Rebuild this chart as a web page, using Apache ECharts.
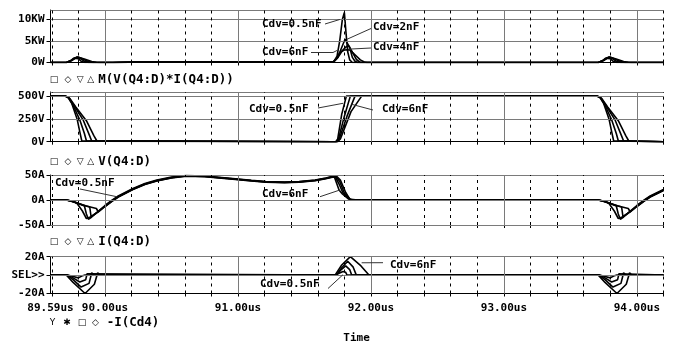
<!DOCTYPE html>
<html>
<head>
<meta charset="utf-8">
<script src="https://cdn.jsdelivr.net/npm/echarts@6.0.0/dist/echarts.min.js"></script>
<style>
html,body{margin:0;padding:0;background:#fff;}
#chart{width:673px;height:345px;}
</style>
</head>
<body>
<div id="chart"></div>
<script>
// ---- Time axis (us) ----
const timeMin = 89.59;
const timeMax = 94.2;
const majorTimes = [90, 91, 92, 93, 94];
const minorTimes = [89.6, 89.8, 90.2, 90.4, 90.6, 90.8, 91.2, 91.4, 91.6, 91.8,
                    92.2, 92.4, 92.6, 92.8, 93.2, 93.4, 93.6, 93.8, 94.2];
const timeLabels = [89.59, 90, 91, 92, 93, 94];

// ---- Y ticks per plot ----
const powerTicks = [0, 5000, 10000];
const voltTicks = [0, 250, 500];
const currentTicks = [-50, 0, 50];
const capTicks = [-20, 0, 20];

const sweepNames = ['Cdv=0.5nF', 'Cdv=2nF', 'Cdv=4nF', 'Cdv=6nF'];

// ---- M(V(Q4:D)*I(Q4:D)) [W] ----
const power05 = [[89.59,0],[89.71,0],[89.74,400],[89.765,1000],[89.78,1350],[89.80,900],[89.82,300],[89.835,50],[89.85,0],
  [90.06,0],[90.3,130],[90.6,170],[91.0,150],[91.3,110],[91.6,120],[91.72,200],
  [91.745,1500],[91.765,5000],[91.785,10000],[91.80,11600],[91.812,7000],[91.825,2500],[91.84,600],[91.86,0],
  [93.71,0],[93.74,400],[93.765,1000],[93.78,1350],[93.80,900],[93.82,300],[93.835,50],[93.85,0],[94.2,0]];
const power2 = [[89.59,0],[89.71,0],[89.745,450],[89.77,1000],[89.79,1300],[89.815,900],[89.845,300],[89.86,60],[89.88,0],
  [90.06,0],[90.3,140],[90.6,175],[91.0,150],[91.3,115],[91.6,125],[91.72,200],
  [91.75,1200],[91.78,3500],[91.805,5400],[91.82,5500],[91.84,3500],[91.86,1200],[91.88,300],[91.9,0],
  [93.71,0],[93.745,450],[93.77,1000],[93.79,1300],[93.815,900],[93.845,300],[93.86,60],[93.88,0],[94.2,0]];
const power4 = [[89.59,0],[89.71,0],[89.75,500],[89.775,1050],[89.795,1250],[89.83,850],[89.87,300],[89.895,60],[89.915,0],
  [90.06,0],[90.3,145],[90.6,180],[91.0,155],[91.3,120],[91.6,130],[91.72,200],
  [91.75,1100],[91.785,2800],[91.815,3700],[91.835,3800],[91.86,2400],[91.89,700],[91.92,0],
  [93.71,0],[93.75,500],[93.775,1050],[93.795,1250],[93.83,850],[93.87,300],[93.895,60],[93.915,0],[94.2,0]];
const power6 = [[89.59,0],[89.71,0],[89.755,550],[89.78,1100],[89.80,1200],[89.85,750],[89.90,250],[89.935,50],[89.96,0],
  [90.06,0],[90.3,150],[90.6,185],[91.0,160],[91.3,125],[91.6,135],[91.72,200],
  [91.745,1000],[91.765,2300],[91.80,2900],[91.84,3000],[91.88,1800],[91.92,600],[91.95,100],[91.97,0],
  [93.71,0],[93.755,550],[93.78,1100],[93.80,1200],[93.85,750],[93.90,250],[93.935,50],[93.96,0],[94.2,0]];

// ---- V(Q4:D) [V] ----
const volt05 = [[89.59,500],[89.70,500],[89.72,490],[89.75,420],[89.79,250],[89.81,110],[89.825,10],[89.835,0],
  [91.735,0],[91.75,30],[91.78,300],[91.815,500],
  [93.70,500],[93.72,490],[93.75,420],[93.79,250],[93.81,110],[93.825,10],[93.835,0],[94.2,0]];
const volt2 = [[89.59,500],[89.70,500],[89.725,485],[89.76,400],[89.81,240],[89.845,90],[89.86,10],[89.87,0],
  [91.74,0],[91.755,25],[91.80,280],[91.845,500],
  [93.70,500],[93.725,485],[93.76,400],[93.81,240],[93.845,90],[93.86,10],[93.87,0],[94.2,0]];
const volt4 = [[89.59,500],[89.70,500],[89.73,480],[89.77,390],[89.835,240],[89.88,80],[89.90,8],[89.91,0],
  [91.745,0],[91.76,25],[91.82,280],[91.88,500],
  [93.70,500],[93.73,480],[93.77,390],[93.835,240],[93.88,80],[93.90,8],[93.91,0],[94.2,0]];
const volt6 = [[89.59,500],[89.70,500],[89.735,475],[89.78,380],[89.86,230],[89.915,70],[89.94,5],[89.95,0],
  [91.75,0],[91.77,30],[91.85,330],[91.93,500],
  [93.70,500],[93.735,475],[93.78,380],[93.86,230],[93.915,70],[93.94,5],[93.95,0],[94.2,0]];

// ---- I(Q4:D) [A] ----
const current05 = [[89.59,0],[89.71,0],[89.75,-2],[89.79,-7],[89.83,-22],[89.86,-37],[89.87,-40],
  [89.90,-33],[89.95,-22],[90.00,-11],[90.05,-1],[90.10,8],[90.21,23],[90.30,33],[90.39,40],[90.50,46],[90.61,49],
  [90.75,48],[90.96,43],[91.10,39.5],[91.21,37],[91.35,36],[91.46,37],[91.58,40],[91.66,44],[91.70,46.5],
  [91.74,48],[91.77,40],[91.81,15],[91.84,2],[91.86,0],
  [93.71,0],[93.75,-2],[93.79,-7],[93.83,-22],[93.86,-37],[93.87,-40],[93.90,-33],[93.95,-22],[94.00,-11],[94.05,-1],[94.10,8],[94.20,21]];
const current2 = [[89.59,0],[89.71,0],[89.76,-3],[89.81,-8],[89.845,-12],[89.86,-28],[89.875,-38.5],
  [89.90,-34],[89.95,-23],[90.00,-12],[90.05,-2],[90.10,7],[90.21,22],[90.30,32],[90.39,39],[90.50,45],[90.61,48.5],
  [90.75,47.5],[90.96,42.5],[91.10,39],[91.21,36.5],[91.35,35.5],[91.46,36.5],[91.58,39.5],[91.66,43.5],[91.70,46],
  [91.735,47.5],[91.765,37],[91.80,14],[91.845,1],[91.87,0],
  [93.71,0],[93.76,-3],[93.81,-8],[93.845,-12],[93.86,-28],[93.875,-38.5],[93.90,-34],[93.95,-23],[94.00,-12],[94.05,-2],[94.10,7],[94.20,20]];
const current4 = [[89.59,0],[89.71,0],[89.77,-4],[89.83,-10],[89.885,-14],[89.895,-33],
  [89.95,-23.5],[90.00,-12.5],[90.05,-2.5],[90.10,6.5],[90.21,21.5],[90.30,31.5],[90.39,38.5],[90.50,44.5],[90.61,48],
  [90.75,47],[90.96,42],[91.10,38.5],[91.21,36],[91.35,35],[91.46,36],[91.58,39],[91.66,43],[91.70,45.5],
  [91.73,47],[91.76,32],[91.79,14],[91.84,1],[91.88,0],
  [93.71,0],[93.77,-4],[93.83,-10],[93.885,-14],[93.895,-33],[93.95,-23.5],[94.00,-12.5],[94.05,-2.5],[94.10,6.5],[94.20,19.5]];
const current6 = [[89.59,0],[89.71,0],[89.78,-5],[89.86,-12],[89.935,-17],[89.95,-24],
  [90.00,-13],[90.05,-3],[90.10,6],[90.21,21],[90.30,31],[90.39,38],[90.50,44],[90.61,47.5],
  [90.75,46.5],[90.96,41.5],[91.10,38],[91.21,35.5],[91.35,34.5],[91.46,35.5],[91.58,38.5],[91.66,42.5],[91.70,45],
  [91.725,46],[91.76,20],[91.785,12],[91.83,2],[91.90,0],
  [93.71,0],[93.78,-5],[93.86,-12],[93.935,-17],[93.95,-24],[94.00,-13],[94.05,-3],[94.10,6],[94.20,19]];

// ---- -I(Cd4) [A] ----
const cap05 = [[89.59,0],[89.72,0],[89.76,-1.5],[89.80,-3],[89.825,-1],[89.835,1],[89.85,0],
  [91.735,0],[91.76,2],[91.79,4],[91.81,3],[91.82,0],
  [93.72,0],[93.76,-1.5],[93.80,-3],[93.825,-1],[93.835,1],[93.85,0],[94.2,0]];
const cap2 = [[89.59,0],[89.72,0],[89.76,-3],[89.81,-7.5],[89.855,-5],[89.865,1.5],[89.88,0],
  [91.74,0],[91.77,5],[91.81,10],[91.84,6],[91.855,0],
  [93.72,0],[93.76,-3],[93.81,-7.5],[93.855,-5],[93.865,1.5],[93.88,0],[94.2,0]];
const cap4 = [[89.59,0],[89.715,0],[89.76,-5],[89.82,-13],[89.88,-9],[89.90,2.5],[89.915,0],
  [91.74,0],[91.78,8],[91.825,15],[91.865,9],[91.89,0],
  [93.715,0],[93.76,-5],[93.82,-13],[93.88,-9],[93.90,2.5],[93.915,0],[94.2,0]];
const cap6 = [[89.59,0],[89.71,0],[89.76,-8],[89.85,-20],[89.92,-10],[89.945,2.5],[89.96,0],
  [91.73,0],[91.78,11],[91.845,20],[91.925,10],[91.985,0],
  [93.71,0],[93.76,-8],[93.85,-20],[93.92,-10],[93.945,2.5],[93.96,0],[94.2,0]];

// ---- plot stack ----
const MONO = '"DejaVu Sans Mono", "Liberation Mono", monospace';
const panels = [
  { top: 10,    height: 52.5, min: 0,   max: 12200, ticks: powerTicks, hLines: [5000, 10000, 12200],
    fmt: v => v === 0 ? '0W' : (v / 1000) + 'KW', traces: [power05, power2, power4, power6] },
  { top: 92,    height: 49.7, min: 0,   max: 545,   ticks: voltTicks, hLines: [250, 500, 545],
    fmt: v => v + 'V', traces: [volt05, volt2, volt4, volt6] },
  { top: 175,   height: 50,   min: -50, max: 50,    ticks: currentTicks, hLines: [-50, 0, 50],
    fmt: v => v + 'A', traces: [current05, current2, current4, current6] },
  { top: 256.7, height: 36.8, min: -20, max: 20,    ticks: capTicks, hLines: [0, 20],
    fmt: v => v === 0 ? 'SEL>>' : v + 'A', traces: [cap05, cap2, cap4, cap6] }
];

const grids = [], xAxes = [], yAxes = [], series = [];
panels.forEach((p, i) => {
  grids.push({ left: 50.5, right: 9.5, top: p.top, height: p.height,
               containLabel: false, outerBoundsMode: 'none' });
  xAxes.push({
    type: 'value', gridIndex: i, min: timeMin, max: timeMax,
    axisLine: { show: true, onZero: false, lineStyle: { color: '#000', width: 1 } },
    axisTick: { show: true, inside: false, length: 3, customValues: minorTimes.concat(majorTimes),
                lineStyle: { color: '#000', width: 1 } },
    axisLabel: { show: i === panels.length - 1, customValues: timeLabels,
                 formatter: v => v.toFixed(2) + 'us', fontFamily: MONO, fontWeight: 'bold',
                 fontSize: 11, color: '#000', margin: 9 },
    splitLine: { show: false }, minorTick: { show: false }
  });
  yAxes.push({
    type: 'value', gridIndex: i, min: p.min, max: p.max,
    axisLine: { show: true, onZero: false, lineStyle: { color: '#000', width: 1 } },
    axisTick: { show: true, inside: false, length: 4, customValues: p.ticks,
                lineStyle: { color: '#000', width: 1 } },
    axisLabel: { customValues: p.ticks, formatter: p.fmt, fontFamily: MONO, fontWeight: 'bold',
                 fontSize: 11, color: '#000', margin: 6 },
    splitLine: { show: false }
  });
  // solid grid lines: value levels and whole microseconds
  series.push({
    type: 'line', xAxisIndex: i, yAxisIndex: i, data: [[timeMin, p.min]],
    symbol: 'none', lineStyle: { width: 0, opacity: 0 }, silent: true, z: 1,
    markLine: {
      silent: true, symbol: ['none', 'none'], animation: false,
      label: { show: false },
      lineStyle: { color: '#7a7a7a', width: 1, type: 'solid' },
      emphasis: { disabled: true },
      data: [
        ...p.hLines.map(v => ({ yAxis: v })),
        ...majorTimes.map(t => ({ xAxis: t }))
      ]
    }
  });
  // dashed grid lines every 0.2us
  series.push({
    type: 'line', xAxisIndex: i, yAxisIndex: i, data: [[timeMin, p.min]],
    symbol: 'none', lineStyle: { width: 0, opacity: 0 }, silent: true, z: 2,
    markLine: {
      silent: true, symbol: ['none', 'none'], animation: false,
      label: { show: false },
      lineStyle: { color: '#000', width: 1, type: [3, 4] },
      emphasis: { disabled: true },
      data: minorTimes.map(t => ({ xAxis: t }))
    }
  });
  p.traces.forEach((d, k) => {
    series.push({
      name: sweepNames[k], type: 'line', xAxisIndex: i, yAxisIndex: i, data: d,
      symbol: 'none', showSymbol: false, z: 3,
      lineStyle: { color: '#000', width: 1.6 }
    });
  });
});

const chart = echarts.init(document.getElementById('chart'), null, { renderer: 'canvas' });
chart.setOption({
  animation: false,
  backgroundColor: '#fff',
  grid: grids, xAxis: xAxes, yAxis: yAxes, series: series
});

// ---- trace legends under each plot ----
const legendRows = [
  { y: 79.3,  marks: ['□', '◇', '▽', '△'], markX: [54, 68, 80.3, 90.8], label: 'M(V(Q4:D)*I(Q4:D))', labelX: 98.3 },
  { y: 161.3, marks: ['□', '◇', '▽', '△'], markX: [54, 68, 80.3, 90.8], label: 'V(Q4:D)', labelX: 98.3 },
  { y: 241.3, marks: ['□', '◇', '▽', '△'], markX: [54, 68, 80.3, 90.8], label: 'I(Q4:D)', labelX: 98.3 },
  { y: 322.7, marks: ['Y', '✱', '□', '◇'], markX: [52.5, 67, 82, 95.5], label: '-I(Cd4)', labelX: 106.7 }
];

// ---- sweep annotations with leader lines ----
const notes = [
  { g: 0, text: 'Cdv=0.5nF', x: 262, y: 24,    via: [[325, 24]],                to: [91.766, 10000] },
  { g: 0, text: 'Cdv=6nF',   x: 262, y: 52.5,  via: [[311, 52.5], [333, 52.5]], to: [91.745, 2800] },
  { g: 0, text: 'Cdv=2nF',   x: 373, y: 27,    via: [[371, 28.5]],              to: [91.82, 5400] },
  { g: 0, text: 'Cdv=4nF',   x: 373, y: 47,    via: [[371, 48]],                to: [91.83, 3100] },
  { g: 1, text: 'Cdv=0.5nF', x: 249, y: 109.3, via: [[318, 108]],               to: [91.79, 421] },
  { g: 1, text: 'Cdv=6nF',   x: 382, y: 109.3, via: [[373, 110]],               to: [91.855, 410] },
  { g: 2, text: 'Cdv=0.5nF', x: 55,  y: 183.3, via: [[80, 189]],                to: [90.088, 6.6] },
  { g: 2, text: 'Cdv=6nF',   x: 262, y: 194,   via: [[320, 196.7]],             to: [91.766, 20] },
  { g: 3, text: 'Cdv=0.5nF', x: 260, y: 284.3, via: [[328, 288.5]],             to: [91.79, 0.5] },
  { g: 3, text: 'Cdv=6nF',   x: 390, y: 265,   via: [[383, 262.7]],             to: [91.93, 13.4] }
];

const gfx = [];
legendRows.forEach(r => {
  r.marks.forEach((m, j) => {
    gfx.push({ type: 'text', x: r.markX[j], y: r.y, silent: true,
      style: { text: m, font: '9px "DejaVu Sans"', fill: '#000', align: 'center', verticalAlign: 'middle' } });
  });
  gfx.push({ type: 'text', x: r.labelX, y: r.y, silent: true,
    style: { text: r.label, font: 'bold 12.5px ' + MONO, fill: '#000', align: 'left', verticalAlign: 'middle' } });
});
gfx.push({ type: 'text', x: 343.3, y: 338, silent: true,
  style: { text: 'Time', font: 'bold 11px ' + MONO, fill: '#000', align: 'left', verticalAlign: 'middle' } });

notes.forEach(n => {
  const end = chart.convertToPixel({ gridIndex: n.g }, n.to);
  gfx.push({ type: 'polyline', silent: true, z: 10,
    shape: { points: n.via.concat([end]) },
    style: { stroke: '#333', lineWidth: 1, fill: null } });
  gfx.push({ type: 'text', x: n.x, y: n.y, silent: true, z: 11,
    style: { text: n.text, font: 'bold 11px ' + MONO, fill: '#000', align: 'left', verticalAlign: 'middle' } });
});

chart.setOption({ graphic: gfx });
</script>
</body>
</html>
